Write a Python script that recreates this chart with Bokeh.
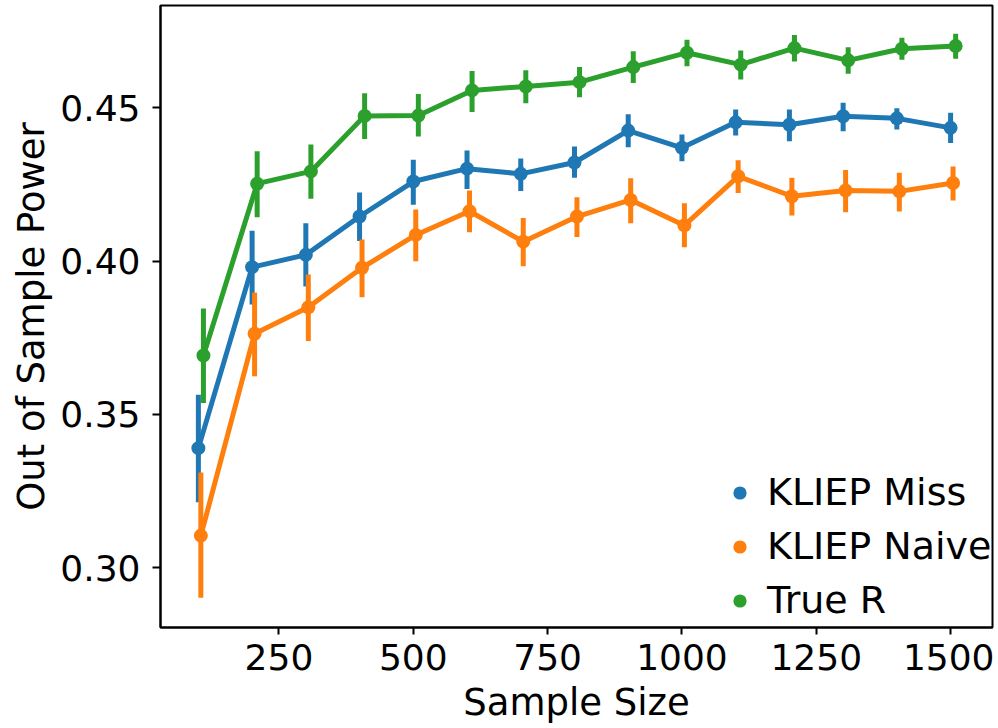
from bokeh.plotting import figure
from bokeh.models import ColumnDataSource, FixedTicker, PrintfTickFormatter, Legend, LegendItem, Range1d
from bokeh.transform import dodge
from bokeh.embed import file_html
from bokeh.resources import INLINE

# ---- data ----
sizes = [100, 200, 300, 400, 500, 600, 700, 800, 900, 1000, 1100, 1200, 1300, 1400, 1500]

miss = [0.3390, 0.3980, 0.4020, 0.4145, 0.4259, 0.4301, 0.4284, 0.4321, 0.4425, 0.4369, 0.4452, 0.4444, 0.4472, 0.4465, 0.4434]
miss_lo = [0.3214, 0.3858, 0.3917, 0.4065, 0.4183, 0.4235, 0.4228, 0.4271, 0.4371, 0.4325, 0.4409, 0.4390, 0.4423, 0.4429, 0.4385]
miss_hi = [0.3564, 0.4099, 0.4123, 0.4223, 0.4330, 0.4360, 0.4334, 0.4373, 0.4478, 0.4412, 0.4494, 0.4494, 0.4516, 0.4498, 0.4483]

naive = [0.3105, 0.3763, 0.3849, 0.3978, 0.4085, 0.4162, 0.4063, 0.4145, 0.4199, 0.4116, 0.4276, 0.4211, 0.4230, 0.4227, 0.4254]
naive_lo = [0.2902, 0.3624, 0.3739, 0.3882, 0.3999, 0.4094, 0.3983, 0.4078, 0.4123, 0.4045, 0.4222, 0.4148, 0.4159, 0.4161, 0.4197]
naive_hi = [0.3311, 0.3897, 0.3956, 0.4070, 0.4168, 0.4230, 0.4140, 0.4208, 0.4270, 0.4188, 0.4328, 0.4271, 0.4297, 0.4288, 0.4308]

true_r = [0.3692, 0.4252, 0.4292, 0.4473, 0.4474, 0.4556, 0.4569, 0.4583, 0.4632, 0.4679, 0.4640, 0.4694, 0.4654, 0.4692, 0.4701]
true_lo = [0.3537, 0.4143, 0.4203, 0.4398, 0.4406, 0.4486, 0.4514, 0.4534, 0.4580, 0.4635, 0.4592, 0.4650, 0.4610, 0.4656, 0.4659]
true_hi = [0.3845, 0.4358, 0.4380, 0.4547, 0.4544, 0.4619, 0.4622, 0.4632, 0.4684, 0.4721, 0.4686, 0.4737, 0.4697, 0.4728, 0.4741]

labels = ["KLIEP Miss", "KLIEP Naive", "True R"]
colors = ["#1f77b4", "#ff7f0e", "#2ca02c"]
offsets = [0.0, 4.6, 9.4]

x_ticks = [250, 500, 750, 1000, 1250, 1500]
y_ticks = [0.30, 0.35, 0.40, 0.45]

FONT = "DejaVu Sans"

p = figure(width=994, height=726, output_backend="svg", toolbar_location=None,
           x_range=Range1d(29.5, 1578.0), y_range=Range1d(0.28054, 0.48328),
           min_border_left=160, min_border_right=2, min_border_top=5, min_border_bottom=99)
p.xgrid.visible = False
p.ygrid.visible = False
p.outline_line_color = "black"
p.outline_line_width = 2
p.outline_line_alpha = 1.0

items = []
series = [(miss, miss_lo, miss_hi), (naive, naive_lo, naive_hi), (true_r, true_lo, true_hi)]
for (vals, lo, hi), lab, col, off in zip(series, labels, colors, offsets):
    src = ColumnDataSource(dict(x=sizes, y=vals, lo=lo, hi=hi))
    xd = dodge("x", off)
    p.line(x=xd, y="y", source=src, line_color=col, line_width=5, line_join="round")
    p.segment(x0=xd, y0="lo", x1=xd, y1="hi", source=src, line_color=col, line_width=5)
    r = p.scatter(x=xd, y="y", source=src, size=14, fill_color=col, line_color=col, line_width=0)
    items.append(LegendItem(label=lab, renderers=[r]))

for ax in (p.xaxis[0], p.yaxis[0]):
    ax.axis_line_width = 2
    ax.axis_line_color = "black"
    ax.major_tick_line_width = 2
    ax.major_tick_line_color = "black"
    ax.major_tick_in = 0
    ax.minor_tick_line_color = None
    ax.major_label_text_font = FONT
    ax.major_label_text_font_size = "36px"
    ax.major_label_text_color = "black"
    ax.axis_label_text_font = FONT
    ax.axis_label_text_font_size = "37px"
    ax.axis_label_text_font_style = "normal"
    ax.axis_label_text_color = "black"

p.xaxis.ticker = FixedTicker(ticks=x_ticks)
p.yaxis.ticker = FixedTicker(ticks=y_ticks)
p.yaxis.formatter = PrintfTickFormatter(format="%.2f")
p.xaxis.major_tick_out = 7
p.yaxis.major_tick_out = 8
p.xaxis.major_label_standoff = 9
p.yaxis.major_label_standoff = 12
p.xaxis.axis_label = "Sample Size"
p.yaxis.axis_label = "Out of Sample Power"
p.xaxis.axis_label_standoff = 8
p.yaxis.axis_label_standoff = 4

legend = Legend(items=items, location=(563, 5), padding=0, margin=0, spacing=10,
                glyph_width=33, glyph_height=33, label_standoff=11,
                label_text_font=FONT, label_text_font_size="38px", label_text_color="black",
                border_line_color=None, background_fill_alpha=0)
p.add_layout(legend)

open("out.html", "w").write(file_html(p, INLINE))
